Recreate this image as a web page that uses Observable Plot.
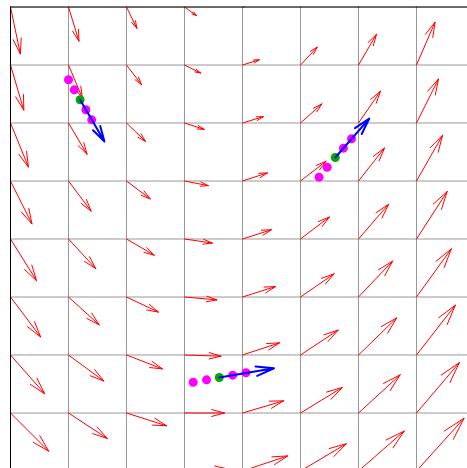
<!DOCTYPE html>
<html>
<head>
<meta charset="utf-8">
<script src="https://cdn.jsdelivr.net/npm/d3@7"></script>
<script src="https://cdn.jsdelivr.net/npm/@observablehq/plot@0.6"></script>
<style>html,body{margin:0;padding:0;background:#fff;}</style>
</head>
<body>
<div id="chart"></div>
<script>
// grid of the vector field (data units)
const gridLines = [0, 1, 2, 3, 4, 5, 6, 7, 8];
const colX = [0, 1, 2, 3, 4, 5, 6, 7];
const rowY = [8, 7, 6, 5, 4, 3, 2, 1, 0];

// horizontal component of the field at each grid point (rows top→bottom)
const fieldU = [
  [0.17, 0.18, 0.18, 0.21, 0.22, 0.23, 0.24, 0.25],
  [0.23, 0.24, 0.26, 0.28, 0.29, 0.29, 0.31, 0.32],
  [0.31, 0.32, 0.33, 0.34, 0.36, 0.37, 0.38, 0.38],
  [0.37, 0.39, 0.41, 0.41, 0.43, 0.44, 0.45, 0.45],
  [0.45, 0.47, 0.48, 0.48, 0.50, 0.50, 0.52, 0.53],
  [0.52, 0.53, 0.55, 0.56, 0.57, 0.58, 0.59, 0.60],
  [0.59, 0.61, 0.62, 0.63, 0.64, 0.65, 0.66, 0.67],
  [0.66, 0.67, 0.69, 0.69, 0.71, 0.72, 0.72, 0.74],
  [0.72, 0.74, 0.76, 0.77, 0.78, 0.79, 0.79, 0.82]
];
// vertical component (up positive)
const fieldV = [
  [-0.81, -0.59, -0.37, -0.15, 0.07, 0.29, 0.50, 0.71],
  [-0.78, -0.57, -0.34, -0.14, 0.09, 0.31, 0.53, 0.74],
  [-0.76, -0.54, -0.32, -0.11, 0.11, 0.33, 0.55, 0.76],
  [-0.74, -0.52, -0.31, -0.08, 0.14, 0.34, 0.57, 0.79],
  [-0.72, -0.51, -0.28, -0.07, 0.16, 0.38, 0.60, 0.82],
  [-0.69, -0.48, -0.26, -0.05, 0.18, 0.40, 0.62, 0.83],
  [-0.67, -0.45, -0.24, -0.02, 0.21, 0.43, 0.64, 0.86],
  [-0.66, -0.44, -0.22, 0.00, 0.21, 0.44, 0.66, 0.87],
  [-0.64, -0.42, -0.20, 0.03, 0.26, 0.47, 0.69, 0.91]
];

// three trajectories: sample points, the current point (index 2), and its velocity
const trajA_x = [1.00, 1.10, 1.20, 1.30, 1.40];
const trajA_y = [6.745, 6.572, 6.400, 6.228, 6.055];
const trajB_x = [5.32, 5.46, 5.60, 5.74, 5.88];
const trajB_y = [5.066, 5.238, 5.405, 5.566, 5.728];
const trajC_x = [3.15, 3.38, 3.60, 3.83, 4.06];
const trajC_y = [1.531, 1.572, 1.612, 1.652, 1.693];
const currentIndex = 2;
const velU = [0.42, 0.586, 0.943];
const velV = [-0.72, 0.672, 0.16];

const field = [];
rowY.forEach((y, r) => colX.forEach((x, c) => field.push({x, y, u: fieldU[r][c], v: fieldV[r][c]})));

const trajs = [[trajA_x, trajA_y], [trajB_x, trajB_y], [trajC_x, trajC_y]];
const trail = [];
const current = [];
trajs.forEach(([xs, ys], k) => {
  xs.forEach((x, i) => {
    if (i === currentIndex) current.push({x, y: ys[i], u: velU[k], v: velV[k]});
    else trail.push({x, y: ys[i]});
  });
});

const chart = Plot.plot({
  width: 467,
  height: 468,
  marginLeft: 10,
  marginTop: 6.5,
  marginRight: 0,
  marginBottom: 0,
  x: {domain: [0, 8], range: [10, 474], axis: null},
  y: {domain: [0, 8], range: [470.5, 6.5], axis: null},
  marks: [
    Plot.ruleX(gridLines, {stroke: "#999", strokeWidth: 1, clip: true}),
    Plot.ruleY(gridLines, {stroke: "#999", strokeWidth: 1, clip: true}),
    Plot.arrow(field, {
      x1: "x", y1: "y",
      x2: d => d.x + d.u, y2: d => d.y + d.v,
      stroke: "red", strokeWidth: 1, headAngle: 30, headLength: 60, clip: true
    }),
    Plot.dot(trail, {x: "x", y: "y", r: 4.5, fill: "#ff00ff"}),
    Plot.dot(current, {x: "x", y: "y", r: 4.5, fill: "#00aa00"}),
    Plot.arrow(current, {
      x1: "x", y1: "y",
      x2: d => d.x + d.u, y2: d => d.y + d.v,
      stroke: "blue", strokeWidth: 2, headAngle: 30, headLength: 60, clip: true
    }),
    Plot.ruleX([0], {stroke: "black", strokeWidth: 1}),
    Plot.ruleY([8], {stroke: "black", strokeWidth: 1})
  ]
});
document.getElementById("chart").appendChild(chart);
</script>
</body>
</html>
